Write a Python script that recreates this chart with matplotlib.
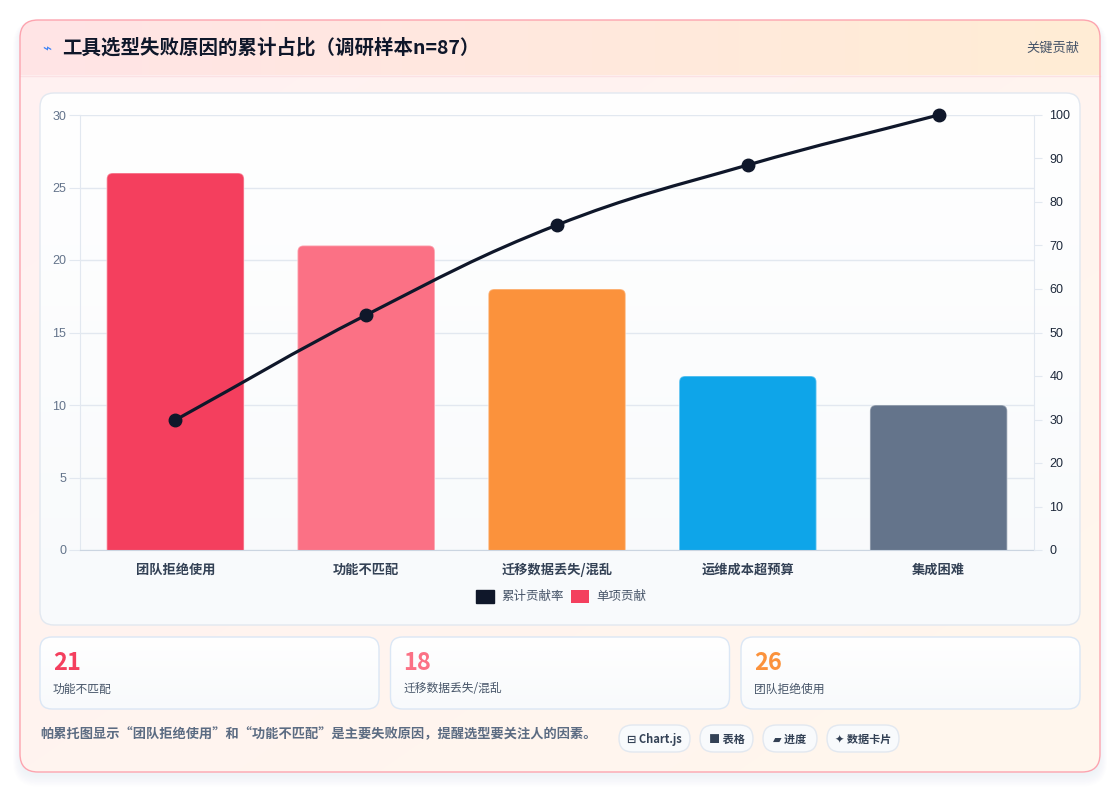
import numpy as np
import matplotlib
matplotlib.use("Agg")
import matplotlib.pyplot as plt
from matplotlib.patches import FancyBboxPatch, Rectangle
from matplotlib.path import Path
from matplotlib.patches import PathPatch
from matplotlib.colors import to_rgb

plt.rcParams['font.family'] = ['Noto Sans CJK SC', 'DejaVu Sans']

# data
categories = ['团队拒绝使用', '功能不匹配', '迁移数据丢失/混乱', '运维成本超预算', '集成困难']
counts = [26, 21, 18, 12, 10]
bar_colors = ['#f43f5e', '#fb7185', '#fb923c', '#0ea5e9', '#64748b']
cumulative = list(np.cumsum(counts) / np.sum(counts) * 100)

card_values = ['21', '18', '26']
card_labels = ['功能不匹配', '迁移数据丢失/混乱', '团队拒绝使用']
card_colors = ['#f43f5e', '#fb7185', '#fb923c']

pills = ['⊟ Chart.js', '■ 表格', '▰ 进度', '✦ 数据卡片']

W, H = 1120, 792
fig = plt.figure(figsize=(W / 100, H / 100), dpi=100)
fig.patch.set_facecolor('white')

# background axes in pixel coords (y down)
bg = fig.add_axes([0, 0, 1, 1])
bg.set_xlim(0, W)
bg.set_ylim(H, 0)
bg.axis('off')
bg.set_zorder(0)


def rbox(x, y, w, h, r, **kw):
    p = FancyBboxPatch((x, y), w, h, boxstyle=f"round,pad=0,rounding_size={r}", **kw)
    bg.add_patch(p)
    return p


def gradient(x0, y0, x1, y1, c0, c1, clip, direction='h', z=1):
    a, b = np.array(to_rgb(c0)), np.array(to_rgb(c1))
    t = np.linspace(0, 1, 256)
    if direction == 'h':
        arr = (a[None, None, :] * (1 - t)[None, :, None] + b[None, None, :] * t[None, :, None])
    elif direction == 'v':
        arr = (a[None, None, :] * (1 - t)[:, None, None] + b[None, None, :] * t[:, None, None])
    else:
        tt = (t[None, :] + t[:, None]) / 2
        arr = a[None, None, :] * (1 - tt)[:, :, None] + b[None, None, :] * tt[:, :, None]
    im = bg.imshow(arr, extent=(x0, x1, y1, y0), origin='upper', aspect='auto',
                   zorder=z, interpolation='bilinear')
    im.set_clip_path(clip)
    return im


# card shadow
for i in range(8):
    rbox(20 - i, 24 - i * 0.5, 1080 + 2 * i, 752 + 2 * i, 18 + i,
         facecolor='#94a3b8', edgecolor='none', alpha=0.012, zorder=0.5)

card = rbox(20, 20, 1080, 752, 18, facecolor='none', edgecolor='#fda4af', lw=1.0, zorder=5)
gradient(20, 20, 1100, 772, '#fff1f2', '#fff7ed', card, direction='d', z=1)
# header band
hdr_clip = rbox(20, 20, 1080, 752, 18, facecolor='none', edgecolor='none', zorder=0)
im = gradient(20, 20, 1100, 75, '#ffe4e6', '#ffedd5', hdr_clip, direction='h', z=1.5)
bg.plot([20, 1100], [75.5, 75.5], color='#fbe1e4', lw=1, zorder=2)

bg.text(47, 49, '⌁', color='#3b82f6', fontsize=11, ha='center', va='center', zorder=6,
        family=['DejaVu Sans'])
bg.text(62, 48, '工具选型失败原因的累计占比（调研样本n=87）', fontsize=14, fontweight='bold',
        color='#0f172a', ha='left', va='center', zorder=6)
bg.text(1079, 48, '关键贡献', fontsize=9.5, color='#475569', ha='right', va='center', zorder=6)

# chart panel
panel = rbox(40, 93, 1040, 532, 14, facecolor='none', edgecolor='#e2e8f0', lw=1.0, zorder=3)
gradient(40, 93, 1080, 625, '#ffffff', '#f8fafc', panel, direction='v', z=2.5)

# chart axes
L, R, T, B = 80, 1034, 115, 550
ax = fig.add_axes([L / W, 1 - B / H, (R - L) / W, (B - T) / H])
ax.set_zorder(2)
ax.patch.set_alpha(0)
x = np.arange(len(categories))
ax.set_xlim(-0.5, len(categories) - 0.5)
ax.set_ylim(0, 30)
ax.set_yticks(range(0, 31, 5))
ax.grid(axis='y', color='#e2e8f0', lw=1)
ax.set_axisbelow(True)
for s in ['top', 'right']:
    ax.spines[s].set_visible(False)
ax.spines['left'].set_color('#e2e8f0')
ax.spines['bottom'].set_color('#cbd5e1')
ax.tick_params(axis='y', length=8, color='#e2e8f0', labelsize=9, labelcolor='#64748b', pad=2)
ax.tick_params(axis='x', length=0, pad=9)
ax.set_xticks(x)
ax.set_xticklabels(categories, fontsize=9.5, fontweight='bold', color='#334155')
for lab in ax.get_yticklabels():
    lab.set_family(['Liberation Sans', 'DejaVu Sans'])

# rounded bars
bw = 0.72
px_x = (R - L) / len(categories)
px_y = (B - T) / 30
rad = 6
for xi, v, c in zip(x, counts, bar_colors):
    p = FancyBboxPatch((xi - bw / 2, -1), bw, v + 1,
                       boxstyle=f"round,pad=0,rounding_size={rad / px_x}",
                       mutation_aspect=px_x / px_y, facecolor=c,
                       edgecolor=(1, 1, 1, 0.35), lw=1.2, zorder=2)
    ax.add_patch(p)

ax2 = ax.twinx()
ax2.set_zorder(3)
ax2.set_ylim(0, 100)
ax2.set_yticks(range(0, 101, 10))
for s in ['top', 'left', 'bottom']:
    ax2.spines[s].set_visible(False)
ax2.spines['right'].set_color('#e2e8f0')
ax2.tick_params(axis='y', length=6, color='#e2e8f0', labelsize=9, labelcolor='#1e293b', pad=5)
for lab in ax2.get_yticklabels():
    lab.set_family(['Liberation Sans', 'DejaVu Sans'])

# smooth cumulative line (chart.js-like spline, tension 0.4)
pts = ax2.transData.transform(np.column_stack([x, cumulative]))
tension = 0.4
verts, codes = [tuple(pts[0])], [Path.MOVETO]
cps = []
n = len(pts)
for i in range(n):
    prev = pts[max(i - 1, 0)]
    nxt = pts[min(i + 1, n - 1)]
    cur = pts[i]
    d01 = np.hypot(*(cur - prev))
    d12 = np.hypot(*(nxt - cur))
    tot = d01 + d12 if d01 + d12 > 0 else 1
    fa = tension * d01 / tot
    fb = tension * d12 / tot
    cps.append((cur - fa * (nxt - prev), cur + fb * (nxt - prev)))
for i in range(1, n):
    verts += [tuple(cps[i - 1][1]), tuple(cps[i][0]), tuple(pts[i])]
    codes += [Path.CURVE4] * 3
line = PathPatch(Path(verts, codes), facecolor='none', edgecolor='#0f172a', lw=2.3,
                 transform=None, zorder=4)
fig.add_artist(line)
line.set_zorder(10)
ax2.plot(x, cumulative, 'o', color='#0f172a', markersize=9, zorder=5, clip_on=False)

# legend
bg.add_patch(Rectangle((476, 590), 18, 13, facecolor='#0f172a', edgecolor='#0f172a', zorder=6))
bg.text(501, 596.5, '累计贡献率', fontsize=9, color='#475569', va='center', zorder=6)
bg.add_patch(Rectangle((571, 590), 18, 13, facecolor='#f43f5e', edgecolor='none', zorder=6))
bg.text(596, 596.5, '单项贡献', fontsize=9, color='#475569', va='center', zorder=6)

# stat cards
for i, (val, lab, col) in enumerate(zip(card_values, card_labels, card_colors)):
    cx = 40 + i * 350.5
    cp = rbox(cx, 637, 339, 72, 12, facecolor='none', edgecolor='#dbe7f5', lw=1.0, zorder=3)
    gradient(cx, 637, cx + 339, 709, '#ffffff', '#f8fafc', cp, direction='v', z=2.5)
    bg.text(cx + 13, 663, val, fontsize=17, fontweight='bold', color=col, va='center', zorder=6)
    bg.text(cx + 13, 689, lab, fontsize=8.5, color='#475569', va='center', zorder=6)

# footer
bg.text(40, 734, '帕累托图显示“团队拒绝使用”和“功能不匹配”是主要失败原因，提醒选型要关注人的因素。',
        fontsize=9.5, fontweight='bold', color='#5b6b82', va='center', zorder=6)
pill_x = [619, 700, 763, 827]
pill_w = [71, 53, 54, 72]
for px, pw, t in zip(pill_x, pill_w, pills):
    rbox(px, 725, pw, 27, 13.5, facecolor='#f8fafc', edgecolor='#e2e8f0', lw=1.0, zorder=5)
    bg.text(px + pw / 2, 739, t, fontsize=8, fontweight='bold', color='#334155',
            ha='center', va='center', zorder=6)

fig.savefig('out.png', dpi=100, facecolor=fig.get_facecolor())
